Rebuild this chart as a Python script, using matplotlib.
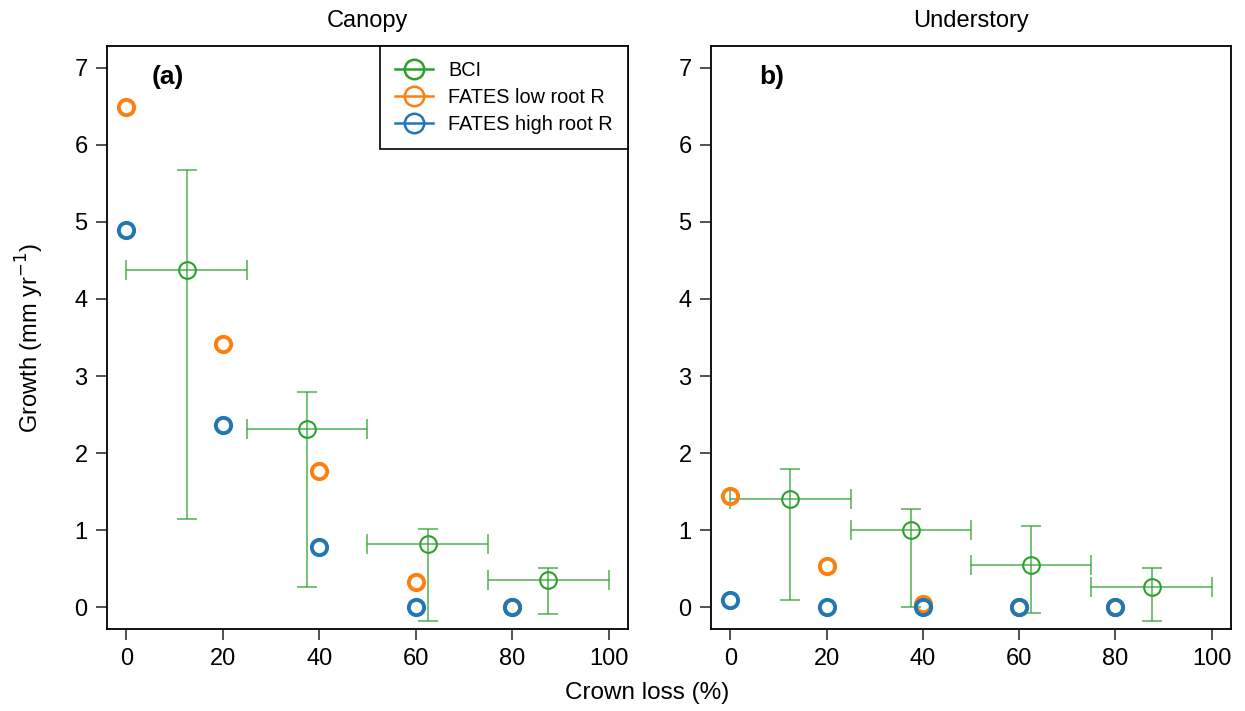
import numpy as np
import matplotlib.pyplot as plt
from matplotlib.lines import Line2D

plt.rcParams['font.family'] = ['Liberation Sans', 'DejaVu Sans']

# Datos BCI (centro de clase de pérdida de copa, crecimiento y barras de error)
bci_x = [12.5, 37.5, 62.5, 87.5]
bci_xlo = [0, 25, 50, 75]
bci_xhi = [25, 50, 75, 100]

canopy_bci = [4.38, 2.31, 0.82, 0.36]
canopy_bci_lo = [1.15, 0.27, -0.17, -0.09]
canopy_bci_hi = [5.67, 2.79, 1.02, 0.51]

under_bci = [1.40, 1.00, 0.55, 0.26]
under_bci_lo = [0.09, 0.0, -0.07, -0.18]
under_bci_hi = [1.79, 1.27, 1.05, 0.51]

# Datos FATES
fates_x = [0, 20, 40, 60, 80]
canopy_low = [6.49, 3.41, 1.77, 0.33, 0.0]
canopy_high = [4.90, 2.36, 0.78, 0.0, 0.0]
under_low = [1.45, 0.54, 0.05, 0.0, 0.0]
under_high = [0.09, 0.0, 0.0, 0.0, 0.0]

green = '#2ca02c'
orange = '#ff7f0e'
blue = '#1f77b4'

fig = plt.figure(figsize=(12.45, 7.11), dpi=100)
ax1 = fig.add_axes([0.0859, 0.1153, 0.4185, 0.82])
ax2 = fig.add_axes([0.5711, 0.1153, 0.4177, 0.82])


def panel(ax, bci, lo, hi, low, high, title, tag):
    bci = np.array(bci)
    x = np.array(bci_x)
    xerr = [x - np.array(bci_xlo), np.array(bci_xhi) - x]
    yerr = [bci - np.array(lo), np.array(hi) - bci]
    ax.errorbar(x, bci, xerr=xerr, yerr=yerr, fmt='none', ecolor=green,
                elinewidth=1.3, capsize=7.5, capthick=1.3, alpha=0.7)
    ax.plot(x, bci, 'o', mfc='none', mec=green, mew=1.5, ms=12)
    ax.plot(fates_x, low, 'o', mfc='none', mec=orange, mew=2.8, ms=11)
    ax.plot(fates_x, high, 'o', mfc='none', mec=blue, mew=2.8, ms=11)

    ax.set_xlim(-4, 104)
    ax.set_ylim(-0.28, 7.28)
    ax.set_xticks([0, 20, 40, 60, 80, 100])
    ax.set_yticks(range(8))
    ax.tick_params(axis='both', direction='out', length=8, width=1.2,
                   labelsize=17, colors='#333333', labelcolor='black', pad=6)
    for s in ax.spines.values():
        s.set_linewidth(1.3)
    ax.set_title(title, fontsize=17, pad=14)
    ax.text(8.6, 6.88, tag, fontsize=19, fontweight='bold', ha='center', va='center')


panel(ax1, canopy_bci, canopy_bci_lo, canopy_bci_hi, canopy_low, canopy_high, 'Canopy', '(a)')
panel(ax2, under_bci, under_bci_lo, under_bci_hi, under_low, under_high, 'Understory', 'b)')

ax1.set_ylabel(r'Growth (mm yr$^{-1}$)', fontsize=17, labelpad=20)
fig.text(0.52, 0.025, 'Crown loss (%)', fontsize=17.5, ha='center', va='center')

handles = [
    Line2D([], [], color=green, marker='o', mfc='none', mew=1.8, ms=14, lw=1.8),
    Line2D([], [], color=orange, marker='o', mfc='none', mew=1.8, ms=14, lw=1.8),
    Line2D([], [], color=blue, marker='o', mfc='none', mew=1.8, ms=14, lw=1.8),
]
leg = ax1.legend(handles, ['BCI', 'FATES low root R', 'FATES high root R'],
                 loc='upper right', bbox_to_anchor=(1, 1), borderaxespad=0,
                 fontsize=14.3, fancybox=False, edgecolor='black', framealpha=1,
                 handlelength=1.9, borderpad=0.75, labelspacing=0.4, handletextpad=0.8)
leg.get_frame().set_linewidth(1.2)

plt.savefig('out.png', dpi=100)
